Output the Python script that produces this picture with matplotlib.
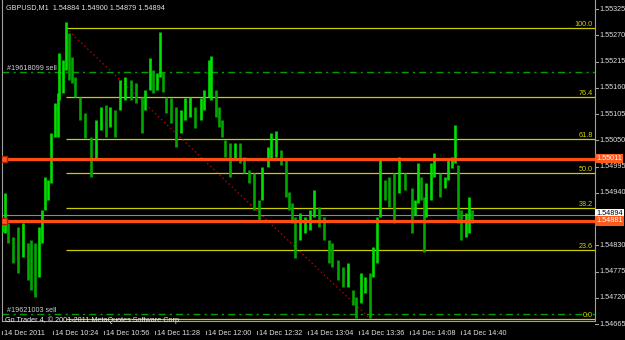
import matplotlib.pyplot as plt
import matplotlib.transforms as mtransforms

# GBPUSD M1, 14 Dec 2011 - bar time in minutes after 09:52, high and low of each bar
minutes = [0, 2, 4, 7, 10, 13, 16, 18, 21, 23, 25, 27, 29, 31, 33, 35, 36, 38, 40, 42,
           44, 46, 49, 52, 56, 59, 62, 65, 68, 71, 74, 77, 81, 84, 88, 90, 93, 95, 97, 99,
           101, 103, 106, 109, 112, 115, 118, 121, 125, 127, 130, 131, 134, 136, 138, 140, 143, 146, 149, 152,
           155, 158, 161, 163, 167, 169, 172, 175, 178, 180, 182, 184, 187, 190, 193, 196, 199, 202, 205, 207,
           211, 214, 217, 220, 222, 225, 228, 231, 233, 235, 237, 240, 243, 246, 249, 253, 257, 259, 261, 263,
           265, 266, 269, 271, 275, 278, 280, 282, 284, 286, 288, 291, 293, 295]
highs = [1.54883, 1.54940, 1.54877, 1.54848, 1.54868, 1.54877, 1.54835, 1.54841, 1.54835, 1.54868,
         1.54904, 1.54973, 1.54967, 1.55065, 1.55128, 1.55149, 1.55233, 1.55218, 1.55298, 1.55275,
         1.55224, 1.55183, 1.55141, 1.55107, 1.55057, 1.55092, 1.55120, 1.55124, 1.55120, 1.55113,
         1.55176, 1.55183, 1.55176, 1.55170, 1.55141, 1.55155, 1.55222, 1.55197, 1.55191, 1.55277,
         1.55193, 1.55141, 1.55139, 1.55120, 1.55113, 1.55139, 1.55141, 1.55120, 1.55139, 1.55155,
         1.55218, 1.55226, 1.55155, 1.55120, 1.55092, 1.55050, 1.55044, 1.55044, 1.55044, 1.55015,
         1.54988, 1.54981, 1.54925, 1.54994, 1.55036, 1.55065, 1.55069, 1.55030, 1.55009, 1.54942,
         1.54919, 1.54889, 1.54898, 1.54889, 1.54904, 1.54946, 1.54910, 1.54889, 1.54841, 1.54835,
         1.54799, 1.54784, 1.54793, 1.54736, 1.54722, 1.54772, 1.54764, 1.54772, 1.54826, 1.54889,
         1.55009, 1.54967, 1.54973, 1.54981, 1.55015, 1.54981, 1.54950, 1.54925, 1.55002, 1.54973,
         1.54931, 1.54961, 1.55002, 1.55023, 1.54981, 1.54973, 1.55013, 1.55015, 1.55082, 1.54998,
         1.54904, 1.54898, 1.54931, 1.54904]
lows = [1.54858, 1.54856, 1.54835, 1.54793, 1.54772, 1.54805, 1.54757, 1.54736, 1.54722, 1.54764,
        1.54835, 1.54904, 1.54925, 1.54961, 1.55057, 1.55057, 1.55134, 1.55149, 1.55197, 1.55176,
        1.55170, 1.55141, 1.55092, 1.55055, 1.54973, 1.55009, 1.55072, 1.55057, 1.55078, 1.55057,
        1.55113, 1.55134, 1.55134, 1.55128, 1.55065, 1.55113, 1.55155, 1.55149, 1.55155, 1.55183,
        1.55151, 1.55107, 1.55086, 1.55036, 1.55065, 1.55092, 1.55099, 1.55076, 1.55092, 1.55113,
        1.55141, 1.55134, 1.55099, 1.55078, 1.55057, 1.55015, 1.54973, 1.55013, 1.55002, 1.54981,
        1.54961, 1.54904, 1.54883, 1.54925, 1.54994, 1.55009, 1.55015, 1.54998, 1.54931, 1.54904,
        1.54877, 1.54803, 1.54841, 1.54856, 1.54862, 1.54889, 1.54868, 1.54841, 1.54793, 1.54784,
        1.54757, 1.54742, 1.54742, 1.54705, 1.54678, 1.54709, 1.54730, 1.54678, 1.54764, 1.54793,
        1.54889, 1.54925, 1.54910, 1.54877, 1.54940, 1.54946, 1.54856, 1.54894, 1.54919, 1.54925,
        1.54816, 1.54889, 1.54925, 1.54973, 1.54931, 1.54950, 1.54967, 1.54992, 1.55002, 1.54877,
        1.54841, 1.54848, 1.54856, 1.54877]

# fibonacci retracement
fib_ratios = [0.0, 23.6, 38.2, 50.0, 61.8, 76.4, 100.0]
fib_high = 1.55285
fib_low = 1.54676
fib_start = 40
fib_end = 231

# orders / lines
order_levels = [1.55011, 1.54881]
bid = 1.54894
sell_levels = [1.55193, 1.54686]
sell_labels = ['#19618099 sell', '#19621003 sell']

price_ticks = [1.55325, 1.55270, 1.55215, 1.55160, 1.55105, 1.55050, 1.54995,
               1.54940, 1.54885, 1.54830, 1.54775, 1.54720, 1.54665]
time_ticks = [0, 32, 64, 96, 128, 160, 192, 224, 256, 288]
time_labels = ['14 Dec 2011', '14 Dec 10:24', '14 Dec 10:56', '14 Dec 11:28', '14 Dec 12:00',
               '14 Dec 12:32', '14 Dec 13:04', '14 Dec 13:36', '14 Dec 14:08', '14 Dec 14:40']

plt.rcParams['font.family'] = ['Liberation Sans', 'DejaVu Sans']
fs = 5.2

W, H = 625, 340
fig = plt.figure(figsize=(W / 100, H / 100), dpi=100, facecolor='black')
# plot area in pixels: x 2..595, y 0..320.5
ax_w, ax_h = 593.0, 320.5
ax = fig.add_axes([2 / W, (H - ax_h) / H, ax_w / W, ax_h / H])
ax.set_facecolor('black')
ax.set_xlim(0, 372.0)
ax.set_ylim(1.546724, 1.553439)

# bars
cols = []
prev = None
for h, l in zip(highs, lows):
    mid = (h + l) / 2
    cols.append('#00e000' if prev is None or mid >= prev else '#00a800')
    prev = mid
ax.vlines(minutes, lows, highs, colors=cols, lw=1.9, zorder=3)

# fibo levels
rng = fib_high - fib_low
btrans = mtransforms.blended_transform_factory(ax.transAxes, ax.transData)
for r in fib_ratios:
    lvl = fib_low + rng * r / 100
    ax.hlines(lvl, fib_start, 372, color='#cccc00', lw=0.9, zorder=2)
    ax.text(1 - 2 / ax_w, lvl, '%.1f' % r, transform=btrans, ha='right', va='bottom',
            color='#d4d400', fontsize=fs, zorder=4)
ax.plot([fib_start, fib_end], [fib_high, fib_low], color='#c00000', lw=0.9,
        ls=(0, (1.2, 2.2)), zorder=2)

# sell lines
for lvl, lab in zip(sell_levels, sell_labels):
    ax.axhline(lvl, color='#00a000', lw=1.0, ls=(0, (5, 3, 1.5, 3)), zorder=2)
    ax.text(5 / ax_w, lvl, lab, transform=btrans, ha='left', va='bottom',
            color='#d0d0d0', fontsize=fs, zorder=4)

# bid line
ax.axhline(bid, color='#8a8a8a', lw=0.8, zorder=2)

# order lines
for lvl in order_levels:
    ax.axhline(lvl, color='#ff4e12', lw=2.3, zorder=4)
    ax.plot([1.3], [lvl], marker='s', ms=4, mfc='#ff5a1e', mec='#b02000', zorder=5)

# frame
for s in ['left', 'right', 'bottom']:
    ax.spines[s].set_color('#a0a0a0')
    ax.spines[s].set_linewidth(0.8)
ax.spines['top'].set_visible(False)
ax.set_xticks([])
ax.set_yticks([])

# right price scale (the 1.54885 label sits under the price boxes, as in MT4)
for p in price_ticks:
    ax.plot([1.0, 1 + 3 / ax_w], [p, p], transform=btrans, color='#a0a0a0', lw=0.8, clip_on=False)
    if abs(p - bid) < 0.0002:
        continue
    ax.text(1 + 4 / ax_w, p, '%.5f' % p, transform=btrans, ha='left', va='center',
            color='#e0e0e0', fontsize=fs, clip_on=False, zorder=1)

ax.text(1 + 1 / ax_w, bid + 0.00003, '%.5f' % bid, transform=btrans, ha='left', va='center',
        color='black', fontsize=fs, clip_on=False, zorder=10,
        bbox=dict(boxstyle='square,pad=0.15', fc='white', ec='none'))
for lvl in order_levels:
    ax.text(1 + 1 / ax_w, lvl, '%.5f' % lvl, transform=btrans, ha='left', va='center',
            color='white', fontsize=fs, clip_on=False, zorder=11,
            bbox=dict(boxstyle='square,pad=0.15', fc='#ff5a1e', ec='none'))

# time scale
ttrans = mtransforms.blended_transform_factory(ax.transData, ax.transAxes)
for t, lab in zip(time_ticks, time_labels):
    ax.plot([t, t], [-10 / ax_h, -13.5 / ax_h], transform=ttrans, color='#a0a0a0',
            lw=0.8, clip_on=False)
    ax.text(t + 1.3, -13 / ax_h, lab, transform=ttrans, ha='left', va='center',
            color='#e0e0e0', fontsize=fs, clip_on=False)

# captions
fig.text(6 / W, 1 - 8 / H, 'GBPUSD,M1  1.54884 1.54900 1.54879 1.54894',
         ha='left', va='center', color='#e0e0e0', fontsize=fs)
fig.text(5 / W, 1 - 320 / H, 'Go Trader 4, \u00a9 2001-2011 MetaQuotes Software Corp.',
         ha='left', va='center', color='#f0f0f0', fontsize=fs)

fig.savefig('out.png', dpi=100, facecolor='black')
